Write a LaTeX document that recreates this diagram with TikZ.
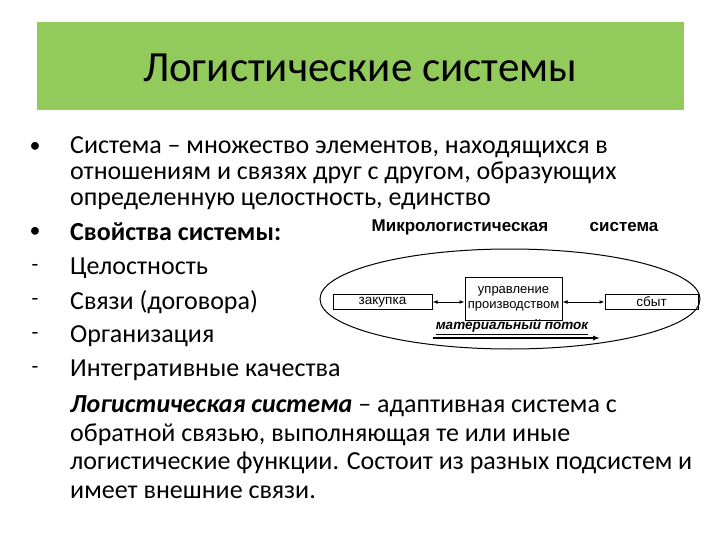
\documentclass[tikz,border=0pt]{standalone}
\usepackage{fontspec}
\setmainfont{Carlito}
\newfontfamily\arialf{Liberation Sans}
\usetikzlibrary{arrows.meta}
\definecolor{hdr}{HTML}{92CB5C}
\tikzset{
 body/.style={anchor=west,inner sep=0pt,font=\fontsize{26}{30}\selectfont},
 bul/.style={anchor=center,inner sep=0pt,font=\fontsize{22}{26}\selectfont},
 box/.style={draw,line width=1pt,inner sep=0pt,font=\arialf\fontsize{13.5}{15}\selectfont},
 dlab/.style={inner sep=0pt,font=\arialf\bfseries\fontsize{17}{19}\selectfont},
 link/.style={{Latex[length=5pt]}-{Latex[length=5pt]},line width=0.9pt}
}
\begin{document}
\begin{tikzpicture}[x=1pt,y=-1pt]
\useasboundingbox (0,0) rectangle (720,540);
\fill[hdr] (37,22) rectangle (684,110);
\node[inner sep=0pt,font=\fontsize{43}{48}\selectfont] (title) at (360,68) {Логистические системы};
\node[bul] (b1) at (35,147) {•};
\node[body] (t1) at (70,147) {Система – множество элементов, находящихся в};
\node[body] (t2) at (70,173) {отношениям и связях друг с другом, образующих};
\node[body] (t3) at (70,201) {определенную целостность, единство};
\node[bul] (b2) at (35,232) {•};
\node[body] (t4) at (70,232) {\bfseries Свойства системы:};
\node[bul] (b3) at (35,268) {-};
\node[body] (t5) at (70,268) {Целостность};
\node[bul] (b4) at (35,302) {-};
\node[body] (t6) at (70,302) {Связи (договора)};
\node[bul] (b5) at (35,336) {-};
\node[body] (t7) at (70,336) {Организация};
\node[bul] (b6) at (35,370) {-};
\node[body] (t8) at (70,370) {Интегративные качества};
\node[body] (t9) at (70,406) {\bfseries\itshape Логистическая система\mdseries\upshape{} – адаптивная система с};
\node[body] (t10) at (70,435) {обратной связью, выполняющая те или иные};
\node[body] (t11) at (70,463) {логистические функции. Состоит из разных подсистем и};
\node[body] (t12) at (70,492) {имеет внешние связи.};
% diagram
\node[dlab] (m1) at (460,227) {Микрологистическая};
\node[dlab] (m2) at (624,227) {система};
\draw[line width=1pt] (510,299) ellipse (190 and 50);
\node[box,minimum width=99pt,minimum height=15pt] (zak) at (382.5,302) {закупка};
\node[box,minimum width=97pt,minimum height=43pt,align=center,font=\arialf\fontsize{13}{15}\selectfont] (upr) at (513.5,298.5) {управление\\производством};
\node[box,minimum width=93pt,minimum height=15pt] (sbyt) at (651.5,302) {сбыт};
\draw[link] (zak.east) -- (upr.west |- zak.east);
\draw[link] (upr.east |- sbyt.west) -- (sbyt.west);
\node[inner sep=0pt,font=\arialf\bfseries\itshape\fontsize{13.5}{15}\selectfont] (mp) at (512,327) {\underline{материальный поток}};
\coordinate (a1) at (433,338);
\coordinate (a2) at (600,338);
\draw[-{Latex[length=7pt]},line width=2.5pt] (a1) -- (a2);
\end{tikzpicture}
\end{document}
